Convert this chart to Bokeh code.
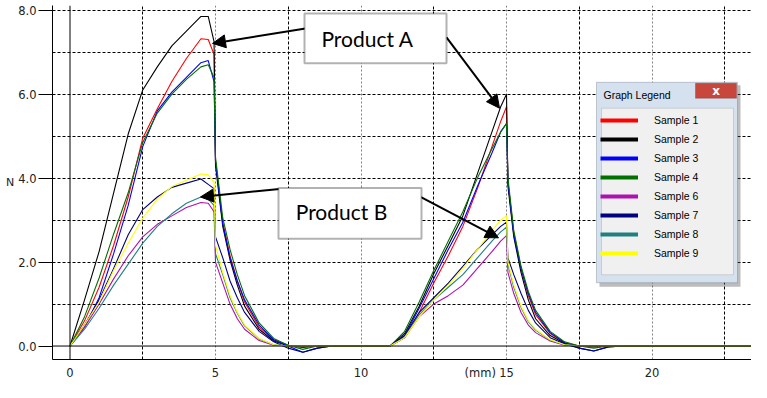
from bokeh.plotting import figure
from bokeh.models import (Range1d, FixedTicker, Grid, Span, BoxAnnotation, Label,
                          Arrow, NormalHead, Legend, LegendItem, PrintfTickFormatter)
from bokeh.embed import file_html
from bokeh.resources import INLINE

# ---------------- data ----------------
x_mm = [0, 0.5, 1.0, 1.5, 2.0, 2.5, 3.0, 3.5, 4.0, 4.5, 4.75, 4.95,
        5.0, 5.25, 5.5, 5.75, 6.0, 6.5, 7.0, 7.5, 8.0, 8.5, 9.0,
        11.0,
        11.5, 12.0, 12.5, 13.0, 13.5, 14.0, 14.5, 14.8, 15.0,
        15.05, 15.25, 15.5, 15.75, 16.0, 16.5, 17.0, 17.5, 18.0, 18.5, 19.0,
        23.7]

sample_1 = [0, 0.6, 1.4, 2.4, 3.55, 4.95, 5.65, 6.3, 6.85, 7.32, 7.3, 6.95,
            4.4, 2.95, 2.15, 1.55, 1.05, 0.45, 0.15, 0.02, -0.03, 0, 0,
            0,
            0.2, 0.8, 1.5, 2.15, 2.85, 3.75, 4.75, 5.35, 5.7,
            3.9, 2.7, 1.85, 1.2, 0.75, 0.3, 0.08, 0, 0, 0, 0,
            0]
sample_2 = [0, 1.1, 2.25, 3.65, 5.05, 6.1, 6.65, 7.15, 7.5, 7.85, 7.85, 7.25,
            4.3, 2.85, 2.05, 1.45, 0.95, 0.4, 0.12, 0.0, -0.03, 0, 0,
            0,
            0.3, 0.95, 1.72, 2.4, 3.1, 4.1, 5.1, 5.7, 6.0,
            3.8, 2.6, 1.75, 1.1, 0.65, 0.25, 0.06, 0, -0.02, 0, 0,
            0]
sample_3 = [0, 0.45, 1.15, 2.2, 3.35, 4.75, 5.6, 6.05, 6.4, 6.75, 6.8, 6.3,
            4.4, 2.9, 2.1, 1.55, 1.1, 0.5, 0.15, 0.0, -0.15, -0.05, 0,
            0,
            0.25, 0.9, 1.6, 2.3, 2.95, 3.8, 4.6, 5.1, 5.3,
            3.9, 2.65, 1.85, 1.25, 0.8, 0.32, 0.08, -0.05, -0.12, -0.02, 0,
            0]
sample_4 = [0, 0.7, 1.62, 2.67, 3.65, 4.85, 5.55, 6.0, 6.35, 6.65, 6.7, 6.4,
            4.5, 3.05, 2.3, 1.7, 1.2, 0.55, 0.18, 0.02, -0.08, 0, 0,
            0,
            0.35, 1.05, 1.8, 2.5, 3.2, 4.0, 4.7, 5.1, 5.3,
            4.0, 2.75, 1.9, 1.3, 0.85, 0.35, 0.1, 0.0, -0.05, 0, 0,
            0]
sample_6 = [0, 0.45, 1.0, 1.6, 2.15, 2.6, 2.9, 3.1, 3.3, 3.42, 3.4, 3.2,
            2.0, 1.5, 1.0, 0.65, 0.4, 0.13, 0.02, 0, 0, 0, 0,
            0,
            0.2, 0.7, 1.0, 1.2, 1.45, 1.85, 2.25, 2.5, 2.63,
            1.75, 1.25, 0.8, 0.5, 0.32, 0.12, 0.02, 0, 0, 0, 0,
            0]
sample_7 = [0, 0.5, 1.1, 1.85, 2.65, 3.25, 3.55, 3.78, 3.88, 3.98, 3.85, 3.75,
            2.6, 2.1, 1.55, 1.15, 0.8, 0.35, 0.1, -0.05, -0.15, -0.05, 0,
            0,
            0.25, 0.8, 1.15, 1.5, 1.9, 2.3, 2.65, 2.85, 2.95,
            2.1, 1.7, 1.25, 0.85, 0.55, 0.2, 0.05, -0.05, -0.12, -0.02, 0,
            0]
sample_8 = [0, 0.4, 0.9, 1.45, 1.95, 2.45, 2.85, 3.15, 3.4, 3.55, 3.5, 3.35,
            2.2, 1.7, 1.15, 0.78, 0.48, 0.17, 0.03, 0, 0, 0, 0,
            0,
            0.2, 0.75, 1.1, 1.4, 1.7, 2.1, 2.5, 2.72, 2.83,
            1.95, 1.4, 0.92, 0.58, 0.38, 0.14, 0.03, 0, 0, 0, 0,
            0]
sample_9 = [0, 0.5, 1.05, 1.8, 2.45, 3.05, 3.5, 3.8, 3.95, 4.1, 4.08, 3.9,
            2.4, 1.75, 1.2, 0.8, 0.5, 0.18, 0.03, 0, 0, 0, 0,
            0,
            0.2, 0.7, 1.1, 1.45, 1.85, 2.3, 2.75, 3.0, 3.1,
            2.0, 1.45, 0.95, 0.6, 0.4, 0.15, 0.03, 0, 0, 0, 0,
            0]

series_names = ["Sample 1", "Sample 2", "Sample 3", "Sample 4",
                "Sample 6", "Sample 7", "Sample 8", "Sample 9"]
series_values = [sample_1, sample_2, sample_3, sample_4,
                 sample_6, sample_7, sample_8, sample_9]
series_colors = ["#ff0000", "#000000", "#0000ff", "#007000",
                 "#b010b0", "#000080", "#208080", "#ffff00"]

x_ticks = [0, 5, 10, 15, 20]
y_ticks = [0, 2, 4, 6, 8]
x_grid_minor = [2.5, 7.5, 12.5, 17.5, 22.5]
x_grid_major = [5, 10, 15, 20]
y_grid = [1, 2, 3, 4, 5, 6, 7, 8]
x_title = "(mm)"
x_title_pos = 14.1          # the x-axis title sits in the tick-label row at ~14.1 mm
y_title = "N"

# ---------------- layout helpers (pixel -> data) ----------------
W, H = 751, 382
FL, FT, FB = 52, 5, 360    # frame left / top / bottom in pixels
PX0, PXS = 69.5, 29.1      # x pixel of 0 mm, pixels per mm
PY0, PYS = 346.5, 42.1     # y pixel of 0 N, pixels per N
def dx(px):
    return (px - PX0) / PXS
def dy(py):
    return (PY0 - py) / PYS

p = figure(width=W, height=H, output_backend="svg", toolbar_location=None,
           x_range=Range1d(dx(FL), dx(W)), y_range=Range1d(dy(FB), dy(FT)),
           min_border_left=FL, min_border_right=0, min_border_top=FT,
           min_border_bottom=H - FB)
p.outline_line_color = None
p.background_fill_color = "white"
p.xgrid.visible = False
p.ygrid.visible = False

# axes
p.xaxis.ticker = FixedTicker(ticks=x_ticks + [x_title_pos])
p.xaxis.major_label_overrides = {x_title_pos: x_title}
p.yaxis.ticker = FixedTicker(ticks=y_ticks)
p.yaxis.formatter = PrintfTickFormatter(format="%.1f")
for ax in (p.xaxis, p.yaxis):
    ax.minor_tick_line_color = None
    ax.axis_line_color = "black"
    ax.major_tick_line_color = "black"
    ax.major_label_text_font = "DejaVu Sans"
    ax.major_label_text_font_size = "11.5px"
    ax.major_label_text_color = "#222222"
    ax.major_tick_in = 0
p.yaxis.major_tick_out = 14
p.yaxis.major_label_standoff = 2
p.yaxis.axis_label = y_title
p.yaxis.axis_label_orientation = "horizontal"
p.yaxis.axis_label_standoff = 1
p.yaxis.axis_label_text_font = "DejaVu Sans"
p.yaxis.axis_label_text_font_size = "11px"
p.yaxis.axis_label_text_font_style = "normal"
p.yaxis.axis_label_text_color = "#222222"
p.xaxis.major_tick_out = 0
p.xaxis.major_label_standoff = 6

# grids
g1 = Grid(dimension=0, ticker=FixedTicker(ticks=x_grid_minor), grid_line_color="black",
          grid_line_dash="3 2", grid_line_width=1)
g2 = Grid(dimension=0, ticker=FixedTicker(ticks=x_grid_major), grid_line_color="#808080",
          grid_line_dash="2 2", grid_line_width=1)
g3 = Grid(dimension=1, ticker=FixedTicker(ticks=y_grid), grid_line_color="black",
          grid_line_dash="3 2", grid_line_width=1)
for g in (g1, g2, g3):
    p.add_layout(g, "center")

# solid zero lines
p.add_layout(Span(location=0, dimension="width", line_color="black", line_width=1))
p.add_layout(Span(location=0, dimension="height", line_color="black", line_width=1))

# data lines
for vals, col in zip(series_values, series_colors):
    p.line(x_mm, vals, line_color=col, line_width=1.1)

# callouts
def callout(l, t, r, b, text, tx, ty):
    p.add_layout(BoxAnnotation(left=dx(l), right=dx(r), top=dy(t), bottom=dy(b),
                               fill_color="white", fill_alpha=1, line_color="black",
                               line_width=2))
    p.add_layout(Label(x=dx(tx), y=dy(ty), text=text, text_align="center",
                       text_baseline="middle", text_font="Lato", text_font_size="21px",
                       text_color="black"))

def arrow(x0, y0, x1, y1):
    p.add_layout(Arrow(end=NormalHead(size=13, fill_color="black", line_color="black"),
                       x_start=dx(x0), y_start=dy(y0), x_end=dx(x1), y_end=dy(y1),
                       line_width=2, line_color="black"))

arrow(305, 28, 212, 43)
arrow(446, 37, 499, 108)
arrow(279, 189, 200, 197)
arrow(420, 197, 498, 238)
callout(304, 13, 446, 63, "Product A", 367, 38)
callout(278, 188, 421, 239, "Product B", 341, 212)

# legend window
p.add_layout(BoxAnnotation(left=dx(599), right=dx(740), top=dy(85), bottom=dy(287),
                           fill_color="#404040", fill_alpha=0.35, line_color=None))
p.add_layout(BoxAnnotation(left=dx(596), right=dx(737), top=dy(82), bottom=dy(283),
                           fill_color="#d5e1ee", fill_alpha=1, line_color="#52606f",
                           line_width=1))
p.add_layout(BoxAnnotation(left=dx(601), right=dx(733), top=dy(108), bottom=dy(275),
                           fill_color="#f0f0f0", fill_alpha=1, line_color="#8c8c8c",
                           line_width=1))
p.add_layout(BoxAnnotation(left=dx(695), right=dx(736), top=dy(83), bottom=dy(98),
                           fill_color="#c8473d", fill_alpha=1, line_color="#6b2a25",
                           line_width=1))
p.add_layout(Label(x=dx(715.5), y=dy(90.5), text="x", text_align="center",
                   text_baseline="middle", text_font="DejaVu Sans", text_font_style="bold",
                   text_font_size="12px", text_color="white"))
p.add_layout(Label(x=dx(603), y=dy(95), text="Graph Legend", text_align="left",
                   text_baseline="middle", text_font="Liberation Sans",
                   text_font_size="10.5px", text_color="black"))

items = []
for name, vals, col in zip(series_names, series_values, series_colors):
    r = p.line(x_mm[:1], vals[:1], line_color=col, line_width=4)
    items.append(LegendItem(label=name, renderers=[r]))
leg = Legend(items=items, location=(548, 100), orientation="vertical",
             glyph_width=38, glyph_height=12, label_height=12, label_standoff=16,
             spacing=7, padding=7, margin=0, background_fill_alpha=0,
             border_line_color=None, label_text_font="Liberation Sans",
             label_text_font_size="10.5px", label_text_color="black")
p.add_layout(leg, "center")

open("out.html", "w").write(file_html(p, INLINE))
